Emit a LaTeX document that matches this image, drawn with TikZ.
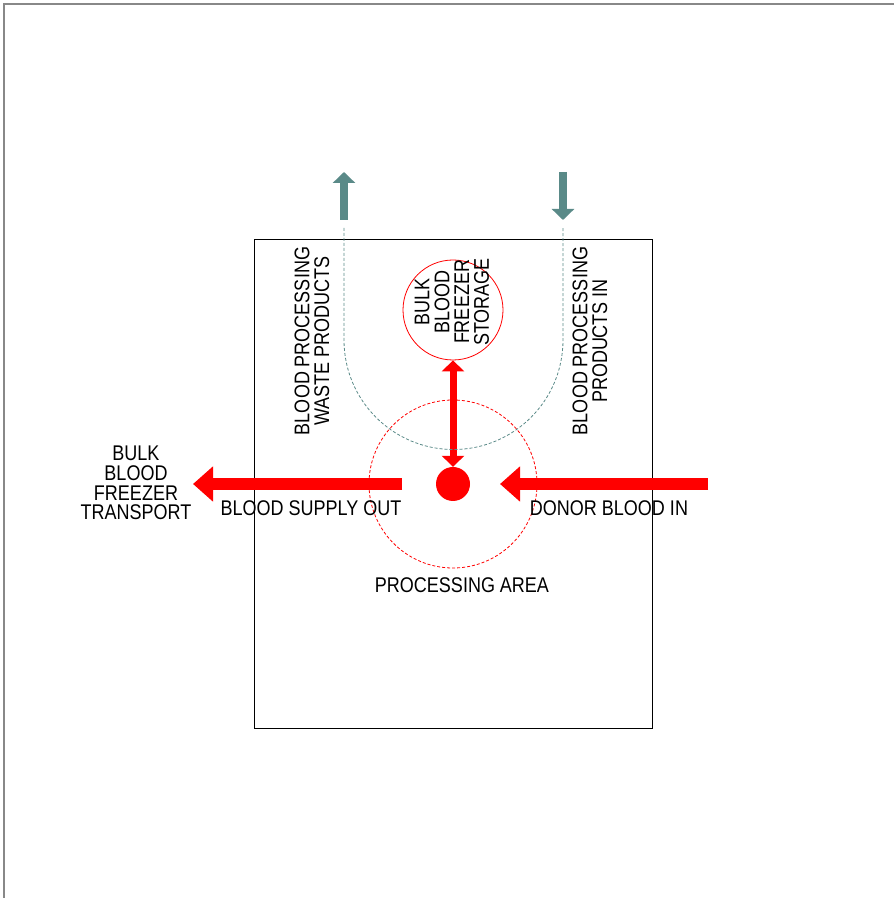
\documentclass[tikz,border=0pt]{standalone}
\usepackage{fontspec}
\setmainfont{Liberation Sans}
\usetikzlibrary{positioning,arrows.meta}
\definecolor{flowred}{RGB}{255,0,0}
\definecolor{wasteteal}{RGB}{90,138,136}
\definecolor{framegray}{RGB}{136,136,136}

\begin{document}
\begin{tikzpicture}[x=1pt,y=1pt,lbl/.style={font=\fontsize{18}{16.8}\selectfont, align=center, inner sep=0pt, yscale=1.18},bigflow/.style={draw=flowred, line width=12pt, -{Triangle[length=20pt,width=34pt]}},tealflow/.style={draw=wasteteal, line width=8pt, -{Triangle[length=11pt,width=22pt]}},zone/.style={draw=flowred, line width=0.8pt, dash pattern=on 3pt off 2pt, circle, inner sep=0pt}]
\useasboundingbox (0,0) rectangle (894,898);
\draw[framegray, line width=1.5pt] (4,0) -- (4,894) -- (894,894);
\draw[line width=0.8pt] (254,170) rectangle (652,659);
% processing area and storage
\node[zone, minimum size=168pt] (area) at (453,414) {};
\node[lbl, below=9pt of area, xshift=9pt] (arealbl) {PROCESSING AREA};
\node[circle, fill=flowred, minimum size=34pt, inner sep=0pt] (dot) at (453,414) {};
\node[circle, draw=flowred, line width=0.8pt, minimum size=100pt, inner sep=0pt] (store) at (453,588) {};
\node[rotate=90, lbl] (storelbl) at (452,596) {BULK\\BLOOD\\FREEZER\\STORAGE};
\draw[flowred, line width=7pt, {Triangle[length=11pt,width=22pt]}-{Triangle[length=11pt,width=22pt]}] (store.south) -- (dot.north);
% blood in and out
\coordinate (inS) at (708,414);
\coordinate (inE) at (500,414);
\coordinate (outS) at (402,414);
\coordinate (outE) at (193,414);
\draw[bigflow] (inS) -- (inE);
\draw[bigflow] (outS) -- (outE);
\node[lbl] (inlbl) at (609,390) {DONOR BLOOD IN};
\node[lbl] (outlbl) at (311,390) {BLOOD SUPPLY OUT};
\node[lbl] (translbl) at (136,415) {BULK\\BLOOD\\FREEZER\\TRANSPORT};
% processing products
\coordinate (wasteS) at (344,678);
\coordinate (wasteE) at (344,726);
\coordinate (prodS) at (563,726);
\coordinate (prodE) at (563,678);
\draw[tealflow] (wasteS) -- (wasteE);
\draw[tealflow] (prodS) -- (prodE);
\draw[wasteteal, line width=0.8pt, dash pattern=on 3pt off 2pt] (344,670) -- (344,558) arc (180:360:109.5) -- (563,670);
\node[rotate=90, lbl] (wastelbl) at (312,557) {BLOOD PROCESSING\\WASTE PRODUCTS};
\node[rotate=90, lbl] (prodlbl) at (590,557) {BLOOD PROCESSING\\PRODUCTS IN};
\end{tikzpicture}
\end{document}
